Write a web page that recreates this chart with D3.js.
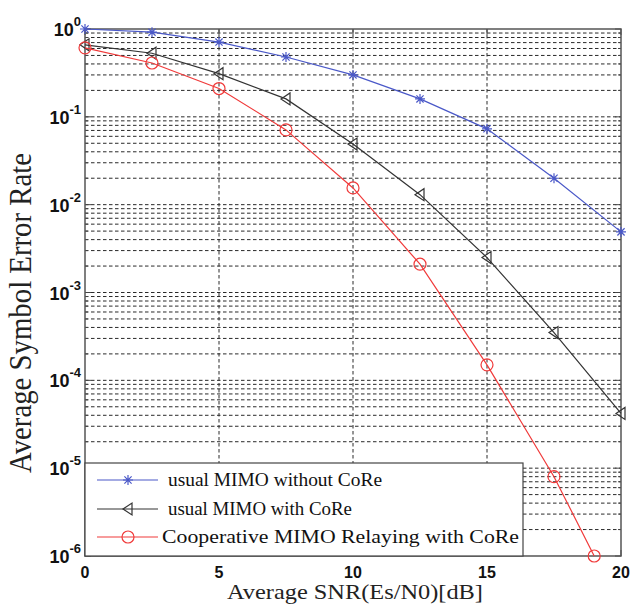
<!DOCTYPE html>
<html>
<head>
<meta charset="utf-8">
<script src="https://cdn.jsdelivr.net/npm/d3@7"></script>
<style>
  body { margin: 0; background: #fff; }
  svg { display: block; }
</style>
</head>
<body>
<div id="chart"></div>
<script>
// data
var snr = [0, 2.5, 5, 7.5, 10, 12.5, 15, 17.5, 20];
var serNoCoRe = [1.0, 0.92, 0.71, 0.48, 0.30, 0.16, 0.073, 0.020, 0.0049];
var serCoRe = [0.66, 0.53, 0.31, 0.16, 0.049, 0.013, 0.0025, 0.00035, 0.000042];
var snrCoop = [0, 2.5, 5, 7.5, 10, 12.5, 15, 17.5, 19];
var serCoop = [0.61, 0.41, 0.21, 0.071, 0.0155, 0.0021, 0.00015, 0.000008, 0.000001];

var xTicks = [0, 5, 10, 15, 20];
var yExponents = [0, -1, -2, -3, -4, -5, -6];
var legendNames = ["usual MIMO without CoRe", "usual MIMO with CoRe", "Cooperative MIMO Relaying with CoRe"];

var W = 633, H = 613;
var margin = { top: 29, right: 12, bottom: 57, left: 85 };
var width = W - margin.left - margin.right,
    height = H - margin.top - margin.bottom;

// the original figure is a bit stretched sideways
var stretch = 1.2;

var svg = d3.select("#chart").append("svg")
    .attr("width", W)
    .attr("height", H);

var canvas = svg.append("g")
    .attr("transform", "translate(" + margin.left + "," + margin.top + ")");

var x = d3.scaleLinear().domain([0, 20]).range([0, width]);
var y = d3.scaleLog().domain([1e-6, 1]).range([height, 0]);

// horizontal grid (every minor and major value)
var gridVals = [];
for (var k = -6; k < 0; k++) {
    for (var m = 1; m <= 9; m++) gridVals.push(m * Math.pow(10, k));
}
gridVals.push(1);

canvas.append("g").selectAll("line")
    .data(gridVals.filter(function (v) { return v > 1e-6 && v < 1; }))
    .enter().append("line")
    .attr("x1", 0).attr("x2", width)
    .attr("y1", function (d) { return y(d); })
    .attr("y2", function (d) { return y(d); })
    .attr("stroke", "#2a2a2a")
    .attr("stroke-width", 1)
    .attr("stroke-dasharray", "3.5,2.5");

// vertical grid
canvas.append("g").selectAll("line")
    .data(xTicks.filter(function (d) { return d > 0 && d < 20; }))
    .enter().append("line")
    .attr("x1", function (d) { return x(d); })
    .attr("x2", function (d) { return x(d); })
    .attr("y1", 0).attr("y2", height)
    .attr("stroke", "#2a2a2a")
    .attr("stroke-width", 1)
    .attr("stroke-dasharray", "3.5,2.5");

// ticks on left and right
var ticks = canvas.append("g").attr("stroke", "#444").attr("stroke-width", 1);
gridVals.forEach(function (v) {
    var major = Math.abs(Math.log10(v) - Math.round(Math.log10(v))) < 1e-9;
    var len = major ? 6 : 3;
    ticks.append("line").attr("x1", 0).attr("x2", len).attr("y1", y(v)).attr("y2", y(v));
    ticks.append("line").attr("x1", width).attr("x2", width - len).attr("y1", y(v)).attr("y2", y(v));
});
xTicks.forEach(function (t) {
    ticks.append("line").attr("x1", x(t)).attr("x2", x(t)).attr("y1", height).attr("y2", height - 6);
    ticks.append("line").attr("x1", x(t)).attr("x2", x(t)).attr("y1", 0).attr("y2", 6);
});

// frame
canvas.append("rect")
    .attr("x", 0).attr("y", 0)
    .attr("width", width).attr("height", height)
    .attr("fill", "none")
    .attr("stroke", "#555")
    .attr("stroke-width", 1.5);

// y tick labels 10^k
canvas.append("g").selectAll("text")
    .data(yExponents)
    .enter().append("text")
    .attr("x", -4)
    .attr("y", function (d) { return y(Math.pow(10, d)) + 7; })
    .attr("text-anchor", "end")
    .style("font-family", "'Liberation Sans', Arial, sans-serif")
    .style("font-weight", "bold")
    .style("font-size", "18px")
    .attr("fill", "#111")
    .each(function (d) {
        var t = d3.select(this);
        t.append("tspan").text("10");
        t.append("tspan").attr("dy", -10).style("font-size", "13px").text(d);
    });

// x tick labels
canvas.append("g").selectAll("text")
    .data(xTicks)
    .enter().append("text")
    .attr("x", function (d) { return x(d); })
    .attr("y", height + 22)
    .attr("text-anchor", "middle")
    .style("font-family", "'Liberation Sans', Arial, sans-serif")
    .style("font-weight", "bold")
    .style("font-size", "16px")
    .attr("fill", "#111")
    .text(function (d) { return d; });

// axis titles
svg.append("text")
    .attr("x", 355)
    .attr("y", 599)
    .attr("text-anchor", "middle")
    .attr("textLength", 256)
    .attr("lengthAdjust", "spacingAndGlyphs")
    .style("font-family", "'Liberation Serif', 'Times New Roman', serif")
    .style("font-size", "21px")
    .attr("fill", "#222")
    .text("Average SNR(Es/N0)[dB]");

svg.append("text")
    .attr("transform", "translate(31,313) scale(" + stretch + ",1) rotate(-90)")
    .attr("text-anchor", "middle")
    .attr("textLength", 320)
    .attr("lengthAdjust", "spacingAndGlyphs")
    .style("font-family", "'Liberation Serif', 'Times New Roman', serif")
    .style("font-size", "27px")
    .attr("fill", "#222")
    .text("Average Symbol Error Rate");

// series
var series = [
    { name: legendNames[0], xs: snr, ys: serNoCoRe, color: "#4a58c8", marker: "star" },
    { name: legendNames[1], xs: snr, ys: serCoRe, color: "#333333", marker: "tri" },
    { name: legendNames[2], xs: snrCoop, ys: serCoop, color: "#f03a3a", marker: "circle" }
];

var line = d3.line()
    .x(function (d) { return x(d[0]); })
    .y(function (d) { return y(d[1]); });

function drawMarker(g, type, color) {
    if (type == "star") {
        var s = 5, s2 = 3.6;
        g.append("path")
            .attr("d", "M" + (-s) + ",0L" + s + ",0M0," + (-s) + "L0," + s +
                "M" + (-s2) + "," + (-s2) + "L" + s2 + "," + s2 +
                "M" + (-s2) + "," + s2 + "L" + s2 + "," + (-s2))
            .attr("stroke", color).attr("stroke-width", 1.2).attr("fill", "none");
    } else if (type == "tri") {
        g.append("path")
            .attr("d", "M-5,0L4,-6L4,6Z")
            .attr("stroke", color).attr("stroke-width", 1.2).attr("fill", "none");
    } else {
        g.append("circle").attr("r", 6)
            .attr("stroke", color).attr("stroke-width", 1.2).attr("fill", "none");
    }
}

series.forEach(function (s) {
    var pts = s.xs.map(function (v, i) { return [v, s.ys[i]]; });
    canvas.append("path")
        .datum(pts)
        .attr("d", line)
        .attr("fill", "none")
        .attr("stroke", s.color)
        .attr("stroke-width", 1.2);
    canvas.append("g").selectAll("g")
        .data(pts)
        .enter().append("g")
        .attr("transform", function (d) { return "translate(" + x(d[0]) + "," + y(d[1]) + ")"; })
        .each(function () { drawMarker(d3.select(this), s.marker, s.color); });
});

// legend
var legend = canvas.append("g").attr("transform", "translate(0," + (463 - margin.top) + ")");
legend.append("rect")
    .attr("x", 0).attr("y", 0)
    .attr("width", 438).attr("height", height - (463 - margin.top))
    .attr("fill", "#fff")
    .attr("stroke", "#444")
    .attr("stroke-width", 1.2);

var rowY = [17, 46, 74];
var textX = [83, 83, 77];
var textLen = [214, 184, 357];
series.forEach(function (s, i) {
    var row = legend.append("g").attr("transform", "translate(0," + rowY[i] + ")");
    row.append("line")
        .attr("x1", 12).attr("x2", 73)
        .attr("y1", 0).attr("y2", 0)
        .attr("stroke", s.color).attr("stroke-width", 1.2);
    var mk = row.append("g").attr("transform", "translate(43,0)");
    drawMarker(mk, s.marker, s.color);
    row.append("text")
        .attr("x", textX[i])
        .attr("y", 6)
        .attr("textLength", textLen[i])
        .attr("lengthAdjust", "spacingAndGlyphs")
        .style("font-family", "'Liberation Serif', 'Times New Roman', serif")
        .style("font-size", "19px")
        .attr("fill", "#111")
        .text(s.name);
});
</script>
</body>
</html>
